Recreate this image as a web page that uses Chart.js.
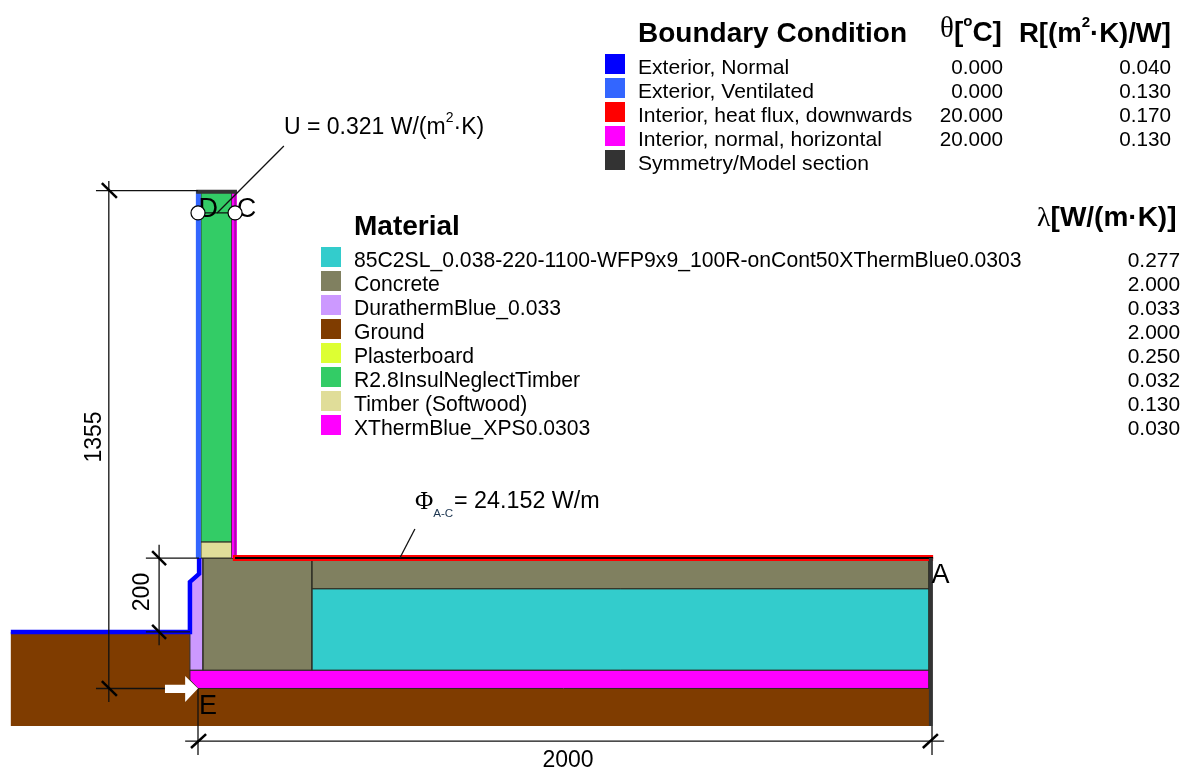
<!DOCTYPE html>
<html>
<head>
<meta charset="utf-8">
<title>Thermal bridge section</title>
<style>
  html, body { margin: 0; padding: 0; background: #fff; }
  canvas { display: block; }
</style>
<script src="https://cdn.jsdelivr.net/npm/chart.js@4/dist/chart.umd.min.js"></script>
</head>
<body>
<canvas id="section" width="1184" height="770"></canvas>
<script>
// legend tables
const boundaryNames = ['Exterior, Normal', 'Exterior, Ventilated', 'Interior, heat flux, downwards', 'Interior, normal, horizontal', 'Symmetry/Model section'];
const boundaryTemps = ['0.000', '0.000', '20.000', '20.000', ''];
const boundaryResist = ['0.040', '0.130', '0.170', '0.130', ''];
const boundaryColors = ['#0000ff', '#3366ff', '#ff0000', '#ff00ff', '#333333'];

const materialNames = ['85C2SL_0.038-220-1100-WFP9x9_100R-onCont50XThermBlue0.0303', 'Concrete', 'DurathermBlue_0.033', 'Ground', 'Plasterboard', 'R2.8InsulNeglectTimber', 'Timber (Softwood)', 'XThermBlue_XPS0.0303'];
const materialLambda = ['0.277', '2.000', '0.033', '2.000', '0.250', '0.032', '0.130', '0.030'];
const materialColors = ['#33cccc', '#808060', '#cc99ff', '#7f3c00', '#ddff33', '#33cc66', '#e0dd99', '#ff00ff'];

// section geometry in mm, E is the origin
const groundShape = [[-510, 154], [-22, 154], [-22, 50], [0, 0], [1992, 0], [1992, -102], [-510, -102], [-510, 154]];
const xpsFloor = [[-22, 50], [1992, 50], [1992, 0], [0, 0], [-22, 23], [-22, 50]];
const durathermShape = [[-22, 50], [-22, 290], [3, 312], [3, 355], [14, 355], [14, 50], [-22, 50]];
const concreteBeam = [[14, 355], [311, 355], [311, 50], [14, 50], [14, 355]];
const concreteSlab = [[311, 355], [1992, 355], [1992, 271], [311, 271], [311, 355]];
const slabInsulation = [[311, 271], [1992, 271], [1992, 50], [311, 50], [311, 271]];
const timberPlate = [[8, 399], [93, 399], [93, 355], [8, 355], [8, 399]];
const wallInsulation = [[8, 1355], [93, 1355], [93, 399], [8, 399], [8, 1355]];
const wallXps = [[93, 1355], [103, 1355], [103, 355], [93, 355], [93, 1355]];

const exteriorNormal = [[-510, 154], [-22, 154], [-22, 290], [3, 312], [3, 355]];
const exteriorVentilated = [[1, 355], [1, 1355]];
const interiorDown = [[95, 355], [2003, 355]];
const interiorDownCore = [[101, 355], [2003, 355]];
const interiorHoriz = [[99, 355], [99, 1355]];
const interiorHorizCore = [[101, 355], [101, 1355]];
const symmetryEnd = [[1997, 355], [1997, -102]];
const symmetryTop = [[-5, 1352], [106, 1352]];

const dimensionLines = [
  [[-278, 1355], [0, 1355]], [[-278, 0], [-90, 0]], [[-243, 1381], [-243, -37]],
  [[-142, 355], [3, 355]], [[-142, 154], [-22, 154]], [[-106, 391], [-106, 118]],
  [[-35, -143], [2033, -143]], [[0, 0], [0, -181]], [[2000, -102], [2000, -181]],
  [[234, 1476], [52, 1294]], [[591, 434], [550, 355]], [[0, 1294], [101, 1294]]
];
const dimensionTicks = [
  [[-262, 1375], [-221, 1335]], [[-262, 20], [-221, -20]],
  [[-125, 374], [-87, 336]], [[-125, 173], [-87, 135]],
  [[-19, -162], [22, -124]], [[1975, -162], [2016, -124]]
];
const fluxArrow = [[-90, 10], [-35, 10], [-35, 34], [0, 0], [-35, -37], [-35, -12], [-90, -12], [-90, 10]];
const probePoints = [[0, 1294], [101, 1294]];

const toXY = pts => pts.map(p => ({ x: p[0], y: p[1] }));

function shape(pts, color, edge) {
  return { data: toXY(pts), fill: 'shape', backgroundColor: color, borderColor: edge || color, borderWidth: edge ? 1 : 0, pointRadius: 0 };
}
function stroke(pts, color, width, cap) {
  return { data: toXY(pts), fill: false, borderColor: color, borderWidth: width, pointRadius: 0, borderCapStyle: cap || 'butt' };
}

const edge = '#2a2a22';
// bottom layer first, reversed below since Chart.js paints the first dataset last
const layers = [
  shape(groundShape, materialColors[3]),
  shape(xpsFloor, materialColors[7], edge),
  shape(durathermShape, materialColors[2], edge),
  shape(concreteBeam, materialColors[1], edge),
  shape(concreteSlab, materialColors[1], edge),
  shape(slabInsulation, materialColors[0], edge),
  shape(timberPlate, materialColors[6], edge),
  shape(wallInsulation, materialColors[5], edge),
  shape(wallXps, materialColors[7], edge),
  stroke(interiorHoriz, boundaryColors[3], 5),
  stroke(interiorHorizCore, '#402040', 0.8),
  stroke(interiorDown, boundaryColors[2], 6),
  stroke(interiorDownCore, '#000000', 2),
  stroke(exteriorVentilated, boundaryColors[1], 5),
  stroke(exteriorNormal, boundaryColors[0], 4.5),
  stroke(symmetryEnd, boundaryColors[4], 4),
  stroke(symmetryTop, boundaryColors[4], 4),
  ...dimensionLines.map(l => stroke(l, '#111111', 1.3)),
  ...dimensionTicks.map(l => stroke(l, '#000000', 2.5)),
  shape(fluxArrow, '#ffffff'),
  { data: toXY(probePoints), showLine: false, pointRadius: 7, pointBackgroundColor: '#ffffff', pointBorderColor: '#000000', pointBorderWidth: 1.2 }
];

// text helpers
const SANS = '"Liberation Sans", Arial, sans-serif';
const SERIF = '"Liberation Serif", "DejaVu Serif", serif';

function text(ctx, str, x, y, size, opts) {
  opts = opts || {};
  ctx.font = (opts.bold ? 'bold ' : '') + size + 'px ' + (opts.font || SANS);
  ctx.textAlign = opts.align || 'left';
  ctx.textBaseline = 'alphabetic';
  ctx.fillStyle = opts.color || '#000000';
  ctx.fillText(str, x, y);
}

// run of text with super/subscripts, written left to right
function runs(ctx, x, y, parts) {
  parts.forEach(p => {
    text(ctx, p.t, x, y + (p.dy || 0), p.size, { bold: p.bold, font: p.font, color: p.color });
    x += ctx.measureText(p.t).width;
  });
}

// baseline anchors of the point letters, mm
const pointLabels = { A: [2023, 287], C: [132, 1283], D: [28, 1283], E: [27, -69] };

const sectionText = {
  id: 'sectionText',
  beforeDatasetDraw(chart, args) {
    // letters sit under the probe circles
    if (args.index !== 0) return;
    const ctx = chart.ctx, sx = chart.scales.x, sy = chart.scales.y;
    ctx.save();
    Object.keys(pointLabels).forEach(k => {
      const p = pointLabels[k];
      text(ctx, k, sx.getPixelForValue(p[0]), sy.getPixelForValue(p[1]), 27, { align: 'center' });
    });
    ctx.restore();
  },
  afterDraw(chart) {
    const ctx = chart.ctx;
    ctx.save();

    // boundary condition table
    text(ctx, 'Boundary Condition', 638, 42, 28, { bold: true });
    runs(ctx, 940, 41, [
      { t: 'θ', size: 29, font: SERIF, dy: -4 },
      { t: '[', size: 28, bold: true },
      { t: 'o', size: 15, bold: true, dy: -15 },
      { t: 'C]', size: 28, bold: true }
    ]);
    runs(ctx, 1019, 42, [
      { t: 'R[(m', size: 27.5, bold: true },
      { t: '2', size: 15, bold: true, dy: -15 },
      { t: '·K)/W]', size: 27.5, bold: true }
    ]);
    boundaryNames.forEach((name, i) => {
      const y = 74 + i * 24;
      ctx.fillStyle = boundaryColors[i];
      ctx.fillRect(605, 54 + i * 24, 20, 20);
      text(ctx, name, 638, y, 21.1);
      text(ctx, boundaryTemps[i], 1003, y, 20.7, { align: 'right' });
      text(ctx, boundaryResist[i], 1171, y, 20.7, { align: 'right' });
    });

    // material table
    text(ctx, 'Material', 354, 235, 28, { bold: true });
    runs(ctx, 1037, 226, [
      { t: 'λ', size: 28, font: SERIF },
      { t: '[W/(m·K)]', size: 28, bold: true }
    ]);
    materialNames.forEach((name, i) => {
      const y = 267 + i * 24;
      ctx.fillStyle = materialColors[i];
      ctx.fillRect(321, 247 + i * 24, 20, 20);
      text(ctx, name, 354, y, 21.17);
      text(ctx, materialLambda[i], 1180, y, 20.9, { align: 'right' });
    });

    // results
    runs(ctx, 284, 134, [
      { t: 'U = 0.321 W/(m', size: 23 },
      { t: '2', size: 14, dy: -12 },
      { t: '·K)', size: 23 }
    ]);
    runs(ctx, 415, 509, [
      { t: 'Φ', size: 25, font: SERIF },
      { t: 'A-C', size: 11.6, dy: 8, color: '#1c3550' }
    ]);
    text(ctx, '= 24.152 W/m', 454, 508, 23.3);

    // dimensions
    text(ctx, '2000', 568, 767, 23, { align: 'center' });
    [['1355', 101, 437], ['200', 149, 592]].forEach(d => {
      ctx.save();
      ctx.translate(d[1], d[2]);
      ctx.rotate(-Math.PI / 2);
      text(ctx, d[0], 0, 0, 23, { align: 'center' });
      ctx.restore();
    });

    ctx.restore();
  }
};

new Chart(document.getElementById('section').getContext('2d'), {
  type: 'line',
  data: { datasets: layers.slice().reverse() },
  options: {
    responsive: false,
    animation: false,
    events: [],
    parsing: false,
    normalized: false,
    layout: { padding: 0, autoPadding: false },
    elements: { line: { tension: 0, borderJoinStyle: 'miter' } },
    plugins: { legend: { display: false }, tooltip: { enabled: false } },
    scales: {
      x: { type: 'linear', display: false, min: -539.5, max: 2686.6 },
      y: { type: 'linear', display: false, min: -221.8, max: 1873.5 }
    }
  },
  plugins: [sectionText]
});
</script>
</body>
</html>
